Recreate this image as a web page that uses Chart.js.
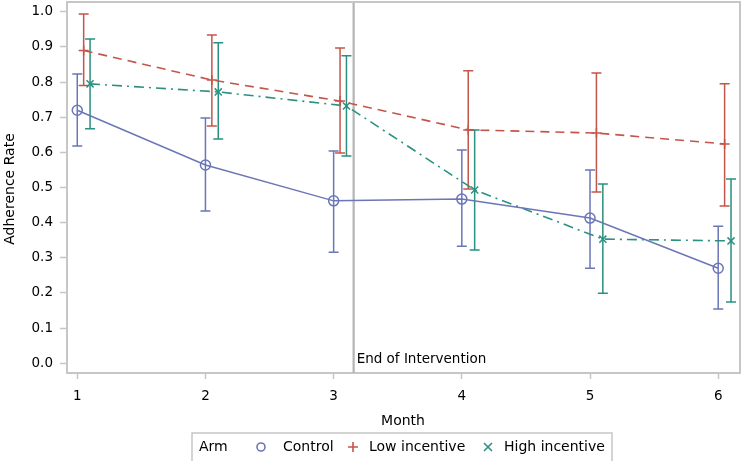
<!DOCTYPE html>
<html>
<head>
<meta charset="utf-8">
<script src="https://cdn.jsdelivr.net/npm/chart.js@4/dist/chart.umd.min.js"></script>
<style>
  html, body { margin: 0; padding: 0; background: #ffffff; }
  #wrap { position: relative; width: 742px; height: 461px; }
</style>
</head>
<body>
<div id="wrap"><canvas id="c" width="742" height="461"></canvas></div>
<script>
// ---- data ----
const months = [1, 2, 3, 4, 5, 6];
const monthLabels = ['1', '2', '3', '4', '5', '6'];
const yTickValues = [0.0, 0.1, 0.2, 0.3, 0.4, 0.5, 0.6, 0.7, 0.8, 0.9, 1.0];
const seriesNames = ['Control', 'Low incentive', 'High incentive'];

const controlMean  = [0.720, 0.564, 0.462, 0.467, 0.413, 0.270];
const controlLower = [0.618, 0.433, 0.316, 0.333, 0.270, 0.154];
const controlUpper = [0.823, 0.698, 0.604, 0.607, 0.550, 0.390];

const lowMean  = [0.890, 0.806, 0.746, 0.664, 0.655, 0.624];
const lowLower = [0.790, 0.675, 0.598, 0.496, 0.487, 0.447];
const lowUpper = [0.994, 0.934, 0.897, 0.832, 0.826, 0.795];

const highMean  = [0.795, 0.772, 0.732, 0.493, 0.353, 0.348];
const highLower = [0.667, 0.638, 0.590, 0.322, 0.199, 0.174];
const highUpper = [0.923, 0.912, 0.875, 0.664, 0.510, 0.524];

const interventionEnd = 3.156;
const interventionLabel = 'End of Intervention';
const legendTitle = 'Arm';
const xTitle = 'Month';
const yTitle = 'Adherence Rate';

// ---- styles ----
const FONT = '"DejaVu Sans", sans-serif';
const colors = ['#6b76b8', '#c4554a', '#2a9080'];
const offsets = [0, 0.05, 0.1];
const axisGray = '#c6c6c6';

function pts(mean, off) { return months.map((m, i) => ({ x: m + off, y: mean[i] })); }

const errorData = [
  { lower: controlLower, upper: controlUpper },
  { lower: lowLower, upper: lowUpper },
  { lower: highLower, upper: highUpper }
];

const errorBarPlugin = {
  id: 'errorBars',
  beforeDatasetsDraw(chart) {
    const { ctx, scales: { x, y }, chartArea } = chart;
    ctx.save();
    // reference line
    const rx = x.getPixelForValue(interventionEnd);
    ctx.strokeStyle = '#b4b4b4';
    ctx.lineWidth = 2.2;
    ctx.beginPath();
    ctx.moveTo(rx, chartArea.top);
    ctx.lineTo(rx, chartArea.bottom);
    ctx.stroke();
    ctx.fillStyle = '#000';
    ctx.font = '13.5px ' + FONT;
    ctx.textAlign = 'left';
    ctx.textBaseline = 'middle';
    ctx.fillText(interventionLabel, rx + 3, chartArea.bottom - 14);

    errorData.forEach((e, s) => {
      ctx.strokeStyle = colors[s];
      ctx.lineWidth = 1.5;
      months.forEach((m, i) => {
        const px = x.getPixelForValue(m + offsets[s]);
        const pu = y.getPixelForValue(e.upper[i]);
        const pl = y.getPixelForValue(e.lower[i]);
        ctx.beginPath();
        ctx.moveTo(px, pu); ctx.lineTo(px, pl);
        ctx.moveTo(px - 5, pu); ctx.lineTo(px + 5, pu);
        ctx.moveTo(px - 5, pl); ctx.lineTo(px + 5, pl);
        ctx.stroke();
      });
    });
    ctx.restore();
  },
  afterDraw(chart) {
    const { ctx, chartArea } = chart;
    ctx.save();
    // top and right frame
    ctx.strokeStyle = axisGray;
    ctx.lineWidth = 2;
    ctx.beginPath();
    ctx.moveTo(chartArea.left, chartArea.top);
    ctx.lineTo(chartArea.right, chartArea.top);
    ctx.lineTo(chartArea.right, chartArea.bottom);
    ctx.stroke();

    // axis titles
    ctx.fillStyle = '#000';
    ctx.font = '14px ' + FONT;
    ctx.textAlign = 'center';
    ctx.textBaseline = 'middle';
    ctx.fillText(xTitle, 403, 421);
    ctx.save();
    ctx.translate(10, 189);
    ctx.rotate(-Math.PI / 2);
    ctx.fillText(yTitle, 0, 0);
    ctx.restore();

    // legend
    ctx.fillStyle = '#ffffff';
    ctx.fillRect(192, 433, 420, 30);
    ctx.strokeStyle = axisGray;
    ctx.lineWidth = 1.5;
    ctx.strokeRect(192, 433, 420, 30);
    const ly = 447;
    ctx.fillStyle = '#000';
    ctx.font = '14px ' + FONT;
    ctx.textAlign = 'left';
    ctx.fillText(legendTitle, 199, ly);
    const items = [
      { sx: 261, tx: 283, style: 'circle' },
      { sx: 353, tx: 369, style: 'cross' },
      { sx: 488, tx: 504, style: 'crossRot' }
    ];
    items.forEach((it, s) => {
      ctx.strokeStyle = colors[s];
      ctx.lineWidth = 1.6;
      ctx.beginPath();
      if (it.style === 'circle') {
        ctx.arc(it.sx, ly, 4, 0, Math.PI * 2);
      } else if (it.style === 'cross') {
        ctx.moveTo(it.sx - 5, ly); ctx.lineTo(it.sx + 5, ly);
        ctx.moveTo(it.sx, ly - 5); ctx.lineTo(it.sx, ly + 5);
      } else {
        ctx.moveTo(it.sx - 4, ly - 4); ctx.lineTo(it.sx + 4, ly + 4);
        ctx.moveTo(it.sx - 4, ly + 4); ctx.lineTo(it.sx + 4, ly - 4);
      }
      ctx.stroke();
      ctx.fillStyle = '#000';
      ctx.fillText(seriesNames[s], it.tx, ly);
    });
    ctx.restore();
  }
};

function zeroPad(scale) {
  scale.paddingTop = 0; scale.paddingBottom = 0;
  scale.paddingLeft = 0; scale.paddingRight = 0;
}

new Chart(document.getElementById('c'), {
  type: 'line',
  data: {
    datasets: [
      {
        label: seriesNames[0], data: pts(controlMean, offsets[0]),
        borderColor: colors[0], borderWidth: 1.5,
        pointStyle: 'circle', pointRadius: 5, pointBorderWidth: 1.5, pointBorderColor: colors[0],
        pointBackgroundColor: 'rgba(255,255,255,0)', tension: 0
      },
      {
        label: seriesNames[1], data: pts(lowMean, offsets[1]),
        borderColor: colors[1], borderWidth: 1.6, borderDash: [9, 6],
        pointStyle: 'cross', pointRadius: 5, pointBorderWidth: 1.5, pointBorderColor: colors[1], tension: 0
      },
      {
        label: seriesNames[2], data: pts(highMean, offsets[2]),
        borderColor: colors[2], borderWidth: 1.6, borderDash: [10, 5, 2, 5],
        pointStyle: 'crossRot', pointRadius: 5, pointBorderWidth: 1.5, pointBorderColor: colors[2], tension: 0
      }
    ]
  },
  options: {
    responsive: false,
    animation: false,
    layout: { autoPadding: false, padding: { top: 2, right: 2, left: 0, bottom: 0 } },
    plugins: { legend: { display: false }, tooltip: { enabled: false } },
    scales: {
      x: {
        type: 'linear', min: 0.92, max: 6.17,
        afterBuildTicks(scale) { scale.ticks = months.map(v => ({ value: v })); },
        afterFit(scale) { scale.height = 88; zeroPad(scale); },
        ticks: {
          color: '#000', font: { size: 13.5, family: FONT }, padding: 9, maxRotation: 0,
          callback(v) { const i = months.indexOf(v); return i >= 0 ? monthLabels[i] : ''; }
        },
        grid: { display: true, drawOnChartArea: false, drawTicks: true, tickLength: 6, tickColor: axisGray, tickWidth: 1.5 },
        border: { display: true, color: axisGray, width: 2 }
      },
      y: {
        type: 'linear', min: -0.028, max: 1.028,
        afterBuildTicks(scale) { scale.ticks = yTickValues.map(v => ({ value: v })); },
        afterFit(scale) { scale.width = 67; zeroPad(scale); },
        ticks: {
          color: '#000', font: { size: 13.5, family: FONT }, padding: 7,
          callback(v) { return Number(v).toFixed(1); }
        },
        grid: { display: true, drawOnChartArea: false, drawTicks: true, tickLength: 7, tickColor: axisGray, tickWidth: 1.5 },
        border: { display: true, color: axisGray, width: 2 }
      }
    }
  },
  plugins: [errorBarPlugin]
});
</script>
</body>
</html>
